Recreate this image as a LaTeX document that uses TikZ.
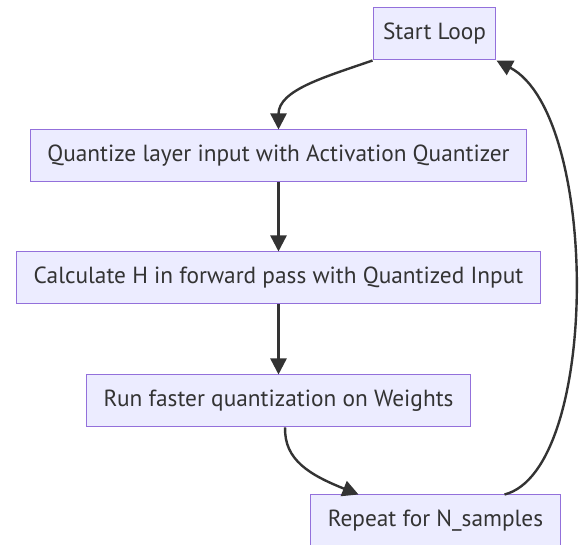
\documentclass[tikz,border=0pt]{standalone}
\usepackage{fontspec}
\setmainfont{PT Sans}
\usetikzlibrary{arrows.meta,positioning}
\definecolor{boxfill}{HTML}{ECECFF}
\definecolor{boxline}{HTML}{9370DB}
\definecolor{inkgrey}{HTML}{333333}
\tikzset{
  stepbox/.style={draw=boxline,fill=boxfill,rectangle,line width=0.75pt,
    minimum height=39pt,inner xsep=13pt,text=inkgrey,
    font=\fontsize{17.5}{21}\selectfont},
  link/.style={draw=inkgrey,line width=1.8pt,-{Triangle[length=12pt,width=12pt]}}
}

\begin{document}
\begin{tikzpicture}[x=0.75pt,y=0.75pt]
      \useasboundingbox (0,0) rectangle (582,545);

      \node[stepbox,inner xsep=7.5pt] (start) at (434.5,511) {Start Loop};
      \node[stepbox] (quant) at (278.5,389) {Quantize layer input with Activation Quantizer};
      \node[stepbox,below = 51.75pt of quant] (calc) {Calculate H in forward pass with Quantized Input};
      \node[stepbox,below = 52.5pt of calc] (run) {Run faster quantization on Weights};
      \node[stepbox] (repeat) at (435.5,24) {Repeat for N\_samples};

      \draw[link] (start.south west) .. controls (325,468) and (278.5,455) .. (quant.north);
      \draw[link] (quant)--(calc);
      \draw[link] (calc)--(run);
      \draw[link] (run.-76) .. controls (284,85) and (310,70) .. (repeat.161);

      % back to the top
      \draw[link] (repeat.21) .. controls (600,75) and (600,430) .. (start.south east);
\end{tikzpicture}
\end{document}
